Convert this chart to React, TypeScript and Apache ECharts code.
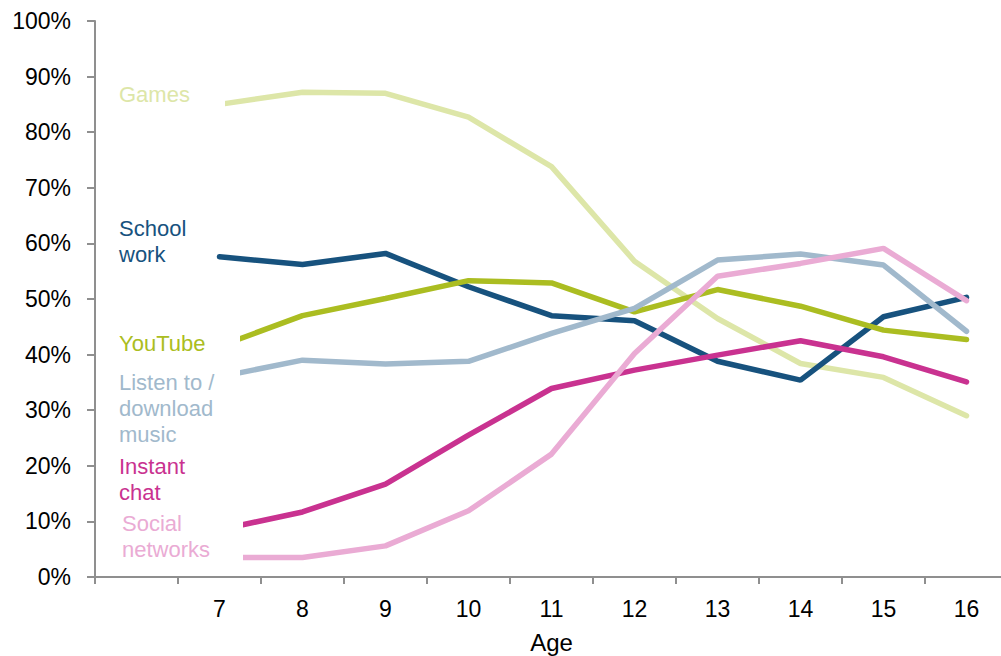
import React, { useEffect, useRef } from 'react';
import * as echarts from 'echarts';

const ages = ['', '7', '8', '9', '10', '11', '12', '13', '14', '15', '16'];
const games = [null, 85.0, 87.2, 87.0, 82.7, 73.8, 56.8, 46.5, 38.4, 35.9, 29.0];
const schoolWork = [null, 57.6, 56.2, 58.2, 52.2, 47.0, 46.1, 38.8, 35.4, 46.8, 50.3];
const youTube = [null, 41.5, 47.0, 50.1, 53.3, 52.9, 47.7, 51.7, 48.7, 44.4, 42.7];
const music = [null, 36.0, 39.0, 38.3, 38.8, 43.8, 48.3, 57.0, 58.1, 56.1, 44.2];
const instantChat = [null, 8.5, 11.7, 16.7, 25.5, 33.9, 37.2, 39.9, 42.5, 39.6, 35.1];
const social = [null, 3.5, 3.5, 5.6, 11.9, 22.1, 40.2, 54.1, 56.4, 59.1, 49.7];

const seriesNames = ['Games', 'School work', 'YouTube', 'Listen to / download music', 'Instant chat', 'Social networks'];
const seriesLabels = ['Games', 'School\nwork', 'YouTube', 'Listen to /\ndownload\nmusic', 'Instant\nchat', 'Social\nnetworks'];
const colors = ['#dde6a8', '#17527e', '#abbd21', '#a1b9cc', '#c93290', '#eaabd4'];
const seriesData = [games, schoolWork, youTube, music, instantChat, social];

const FONT = '"Liberation Sans", Arial, sans-serif';

export default function App() {
  const ref = useRef<HTMLDivElement>(null);
  useEffect(() => {
    if (!ref.current) return;
    const chart = echarts.init(ref.current, null, { renderer: 'svg' });
    const labelPos = [
      { x: 119, y: 81 },
      { x: 119, y: 215 },
      { x: 119, y: 330 },
      { x: 119, y: 369 },
      { x: 119, y: 453 },
      { x: 122, y: 510 },
    ];
    const covers = [
      { x: 195, y: 95, w: 30, h: 16 },
      { x: 195, y: 332, w: 45, h: 21 },
      { x: 195, y: 366, w: 45, h: 18 },
      { x: 195, y: 518, w: 48, h: 18 },
      { x: 195, y: 551, w: 48, h: 12 },
    ];
    chart.setOption({
      animation: false,
      grid: { left: 95, right: -7, top: 21, bottom: 79, containLabel: false, outerBoundsMode: 'none' },
      xAxis: {
        type: 'category',
        data: ages,
        boundaryGap: true,
        name: 'Age',
        nameLocation: 'middle',
        nameGap: 53,
        nameTextStyle: { fontFamily: FONT, fontSize: 24, color: '#000', lineHeight: 24 },
        axisLine: { show: true, lineStyle: { color: '#8f8f8f', width: 2 } },
        axisTick: { show: true, interval: 0, length: 7, lineStyle: { color: '#8f8f8f', width: 2 } },
        axisLabel: { interval: 0, fontFamily: FONT, fontSize: 23, color: '#000', margin: 20, lineHeight: 23 },
        splitLine: { show: false },
      },
      yAxis: {
        type: 'value',
        min: 0,
        max: 100,
        interval: 10,
        axisLine: { show: true, lineStyle: { color: '#8f8f8f', width: 2 } },
        axisTick: { show: true, length: 8, lineStyle: { color: '#8f8f8f', width: 2 } },
        axisLabel: { formatter: '{value}%', fontFamily: FONT, fontSize: 23, color: '#000', margin: 24 },
        splitLine: { show: false },
      },
      series: seriesData.map((d, i) => ({
        name: seriesNames[i],
        type: 'line',
        data: d,
        symbol: 'none',
        z: 2,
        lineStyle: { color: colors[i], width: 5.5, cap: 'round' },
        itemStyle: { color: colors[i] },
      })),
      graphic: [
        ...covers.map((c) => ({
          type: 'rect',
          z: 100,
          shape: { x: c.x, y: c.y, width: c.w, height: c.h },
          style: { fill: '#ffffff' },
        })),
        ...seriesLabels.map((t, i) => ({
          type: 'text',
          z: 101,
          x: labelPos[i].x,
          y: labelPos[i].y,
          style: {
            text: t,
            fill: colors[i],
            font: `22px ${FONT}`,
            lineHeight: 26,
            verticalAlign: 'top',
            align: 'left',
          },
        })),
      ],
    });
    return () => chart.dispose();
  }, []);
  return <div ref={ref} style={{ position: 'absolute', left: 0, top: 0, width: 1001, height: 656 }} />;
}
